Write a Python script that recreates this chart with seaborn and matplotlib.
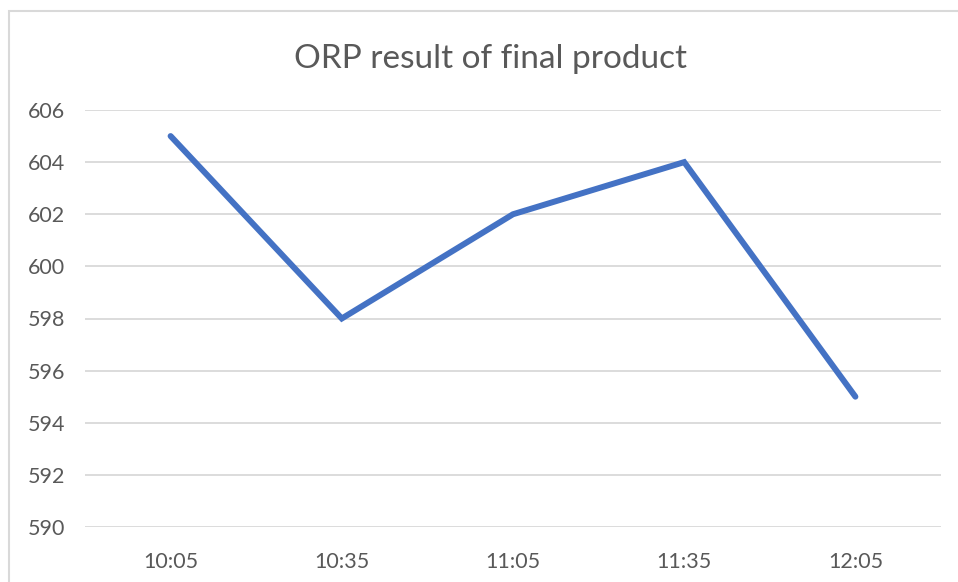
import matplotlib
matplotlib.use("Agg")
import matplotlib.pyplot as plt
import seaborn as sns
import pandas as pd
from matplotlib.patches import Rectangle

times = ["10:05", "10:35", "11:05", "11:35", "12:05"]
orp = [605, 598, 602, 604, 595]
yticks = [590, 592, 594, 596, 598, 600, 602, 604, 606]

sns.set_theme(style="white")
plt.rcParams['font.family'] = ['Lato', 'DejaVu Sans']

df = pd.DataFrame({"time": times, "orp": orp})

fig = plt.figure(figsize=(9.58, 5.82), dpi=100)
ax = fig.add_axes([85/958, 55/582, (941-85)/958, (527-110)/582])

sns.lineplot(data=df, x="time", y="orp", ax=ax, color="#4472C4", linewidth=4.3,
             solid_capstyle="round", solid_joinstyle="miter", sort=False)

ax.set_xlim(-0.5, len(times) - 0.5)
ax.set_ylim(590, 606)
ax.set_yticks(yticks)
ax.set_yticklabels([str(v) for v in yticks])
ax.yaxis.grid(True, color="#d9d9d9", linewidth=1.3)
ax.xaxis.grid(False)
for s in ax.spines.values():
    s.set_visible(False)
ax.set_xlabel("")
ax.set_ylabel("")
ax.tick_params(axis="both", length=0, labelsize=15.5, labelcolor="#595959")
ax.tick_params(axis="x", pad=18)
for lbl in ax.get_yticklabels():
    lbl.set_horizontalalignment("left")
ax.yaxis.set_tick_params(pad=(85 - 28) * 0.72)

fig.text(490/958, 1 - 59/582, "ORP result of final product", ha="center", va="center",
         fontsize=24, color="#595959")

fig.patches.append(Rectangle((9/958, -0.1), 1.1, 1 - 11/582 + 0.1, transform=fig.transFigure,
                             fill=False, edgecolor="#d9d9d9", linewidth=1.5))

fig.savefig("out.png", dpi=100)
